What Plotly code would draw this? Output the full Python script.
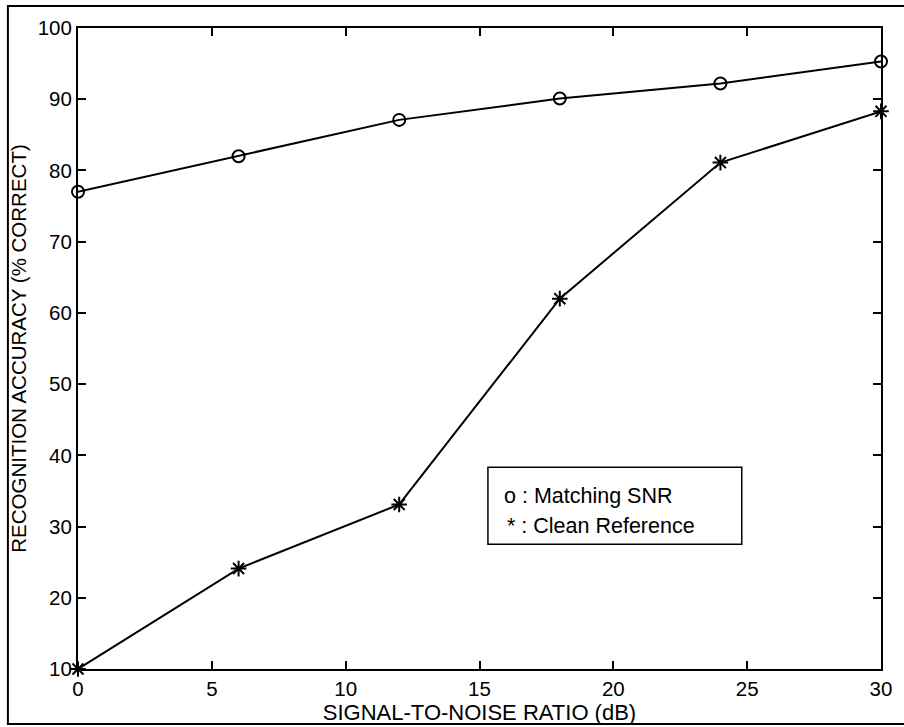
import plotly.graph_objects as go

snr = [0, 6, 12, 18, 24, 30]
matching_snr = [77.0, 82.0, 87.1, 90.1, 92.2, 95.3]
clean_reference = [10.0, 24.1, 33.1, 62.0, 81.1, 88.3]
x_ticks = [0, 5, 10, 15, 20, 25, 30]
y_ticks = [10, 20, 30, 40, 50, 60, 70, 80, 90, 100]

FONT = "Liberation Sans, Arial, Helvetica, sans-serif"

fig = go.Figure()
fig.add_trace(go.Scatter(
    x=snr, y=matching_snr, mode="lines+markers", name="Matching SNR",
    line=dict(color="black", width=2),
    marker=dict(symbol="circle-open", size=12, color="black", line=dict(width=2)),
    cliponaxis=False, showlegend=False,
))
fig.add_trace(go.Scatter(
    x=snr, y=clean_reference, mode="lines+markers", name="Clean Reference",
    line=dict(color="black", width=2),
    marker=dict(symbol="asterisk-open", size=13, color="black", line=dict(width=2, color="black")),
    cliponaxis=False, showlegend=False,
))

axis_common = dict(
    showgrid=False, zeroline=False, showline=True, linecolor="black", linewidth=2,
    mirror="ticks", ticks="inside", ticklen=8, tickwidth=2, tickcolor="black",
    tickfont=dict(family=FONT, size=20.5, color="black"),
)
fig.update_xaxes(range=[0, 30], tickvals=x_ticks, ticktext=[str(v) for v in x_ticks],
                 title=dict(text="SIGNAL-TO-NOISE RATIO (dB)", standoff=0,
                            font=dict(family=FONT, size=22, color="black")),
                 ticklabelstandoff=0, **axis_common)
fig.update_yaxes(range=[10, 100], tickvals=y_ticks, ticktext=[str(v) for v in y_ticks],
                 title=dict(text="RECOGNITION ACCURACY (% CORRECT)", standoff=6,
                            font=dict(family=FONT, size=20.5, color="black")),
                 ticklabelstandoff=0, **axis_common)

# outer frame
fig.add_shape(type="rect", xref="paper", yref="paper",
              x0=-0.0873, x1=1.04, y0=-0.0857, y1=1.0343,
              line=dict(color="black", width=2), layer="below")
# legend box
fig.add_shape(type="rect", xref="paper", yref="paper",
              x0=0.5105, x1=0.8266, y0=0.1947, y1=0.3146,
              line=dict(color="black", width=1.5), fillcolor="white")
fig.add_annotation(xref="paper", yref="paper", x=0.5285, y=0.2699, xanchor="left", yanchor="middle",
                   text="o : Matching SNR", showarrow=False,
                   font=dict(family=FONT, size=21.5, color="black"))
fig.add_annotation(xref="paper", yref="paper", x=0.532, y=0.2232, xanchor="left", yanchor="middle",
                   text="* : Clean Reference", showarrow=False,
                   font=dict(family=FONT, size=21.5, color="black"))

fig.update_layout(
    width=904, height=727,
    margin=dict(l=78, r=13, t=28, b=57),
    paper_bgcolor="white", plot_bgcolor="white",
    font=dict(family=FONT, color="black"),
)
fig.write_html("out.html", config={"displayModeBar": False},
               post_script="document.body.style.margin='0';")
